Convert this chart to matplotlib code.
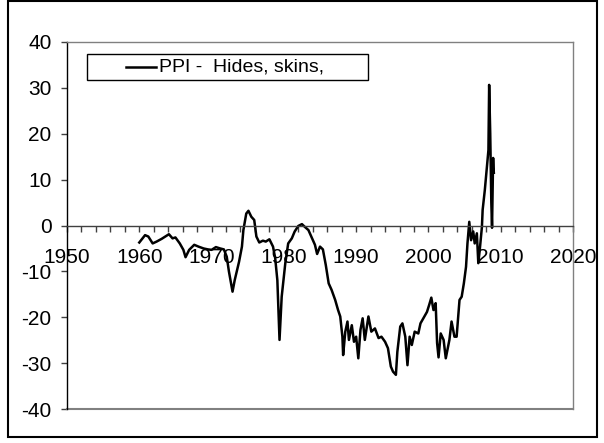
import matplotlib
matplotlib.use("Agg")
import matplotlib.pyplot as plt
from matplotlib.patches import Rectangle
from matplotlib.lines import Line2D
from matplotlib.ticker import MultipleLocator

plt.rcParams['font.family'] = ['Liberation Sans', 'DejaVu Sans']
plt.rcParams['axes.unicode_minus'] = False

# values (year, % change)
years = [1960.0, 1960.8, 1961.25, 1961.85, 1962.4, 1963.1, 1964.1, 1964.6, 1965.0, 1965.6,
         1966.1, 1966.4, 1966.9, 1967.6, 1968.2, 1968.9, 1969.5, 1970.0, 1970.6, 1971.2,
         1971.7, 1972.1, 1972.4, 1972.9, 1973.2, 1973.6, 1973.8, 1974.2, 1974.4, 1974.8,
         1975.1, 1975.5, 1975.9, 1976.2, 1976.6, 1977.1, 1977.5, 1978.0, 1978.5, 1978.8,
         1979.1, 1979.4, 1979.7, 1980.2, 1980.6, 1981.1, 1981.5, 1982.0, 1982.5, 1982.9,
         1983.4, 1983.8, 1984.3, 1984.6, 1985.0, 1985.4, 1985.8, 1986.2, 1986.6, 1987.1,
         1987.5, 1987.8, 1988.1, 1988.2, 1988.5, 1988.8, 1989.0, 1989.4, 1989.7, 1990.0,
         1990.3, 1990.6, 1990.9, 1991.2, 1991.7, 1992.1, 1992.6, 1993.1, 1993.5, 1994.0,
         1994.4, 1994.8, 1995.1, 1995.5, 1995.7, 1996.1, 1996.4, 1996.8, 1997.1, 1997.4,
         1997.7, 1998.1, 1998.6, 1998.9, 1999.3, 1999.8, 2000.1, 2000.4, 2000.7, 2001.0,
         2001.2, 2001.4, 2001.7, 2002.1, 2002.4, 2002.9, 2003.2, 2003.6, 2003.9, 2004.3,
         2004.6, 2004.9, 2005.2, 2005.4, 2005.65, 2005.9, 2006.2, 2006.4, 2006.7, 2006.9,
         2007.1, 2007.4, 2007.5, 2007.8, 2008.05, 2008.3, 2008.4, 2008.55, 2008.7, 2008.8,
         2008.95, 2009.0, 2009.05]
ppi_hides = [-3.7, -2.1, -2.4, -3.9, -3.5, -2.9, -1.9, -2.8, -2.6, -3.9,
             -5.3, -6.9, -5.3, -4.2, -4.6, -5.0, -5.2, -5.3, -4.7, -5.0,
             -5.2, -6.8, -10.0, -14.4, -11.9, -9.3, -7.9, -4.6, -1.0, 2.6,
             3.2, 1.9, 1.2, -2.4, -3.7, -3.3, -3.5, -3.0, -4.6, -7.1,
             -11.9, -24.9, -15.5, -8.2, -3.9, -2.8, -1.3, -0.1, 0.3, -0.3,
             -1.0, -2.4, -4.2, -6.2, -4.6, -5.2, -8.6, -12.6, -14.0, -16.2,
             -18.4, -19.8, -24.2, -28.2, -23.1, -20.9, -24.9, -21.7, -25.3, -24.2,
             -28.9, -22.7, -20.2, -24.9, -19.8, -23.1, -22.4, -24.5, -24.2, -25.3,
             -26.7, -30.7, -31.8, -32.5, -27.5, -22.0, -21.3, -24.2, -30.4, -24.2,
             -26.0, -23.1, -23.5, -21.3, -20.2, -18.8, -17.3, -15.7, -18.4, -16.9,
             -25.6, -28.7, -23.5, -24.9, -28.9, -24.9, -20.9, -24.2, -24.2, -16.2,
             -15.5, -12.6, -9.0, -3.9, 0.8, -3.2, -1.3, -3.9, -1.7, -8.2,
             -5.3, -0.3, 3.4, 7.7, 12.1, 16.4, 30.6, 20.0, 5.0, -0.5,
             14.7, 12.5, 11.5]
legend_label = "PPI -  Hides, skins,"

W, H = 604, 443
fig = plt.figure(figsize=(W / 100, H / 100), dpi=100)
ax = fig.add_axes([67 / W, (H - 409.3) / H, (573 - 67) / W, (409.3 - 41.7) / H])

ax.plot(years, ppi_hides, color='black', lw=1.8)

ax.set_xlim(1950, 2020)
ax.set_ylim(-40, 40)
ax.xaxis.set_major_locator(MultipleLocator(10))
ax.xaxis.set_minor_locator(MultipleLocator(2))
ax.yaxis.set_major_locator(MultipleLocator(10))

# frame like excel
for s in ['top', 'right']:
    ax.spines[s].set_color('#808080')
    ax.spines[s].set_linewidth(1)
ax.spines['left'].set_color('black')
ax.spines['left'].set_linewidth(1)
ax.spines['bottom'].set_position(('data', 0))
ax.spines['bottom'].set_color('#404040')
ax.spines['bottom'].set_linewidth(1)
ax.axhline(-40, color='#808080', lw=1.5, clip_on=False)

ax.tick_params(axis='x', which='both', direction='out', length=4, width=1,
               color='#404040', labelsize=15, pad=12)
ax.tick_params(axis='y', direction='out', length=4, width=1, color='#404040',
               labelsize=15, pad=7)

# legend box (truncated label, centered content)
fig.patches.append(Rectangle((87 / W, (H - 79.5) / H), 281 / W, 25.5 / H,
                             transform=fig.transFigure, fill=False,
                             edgecolor='black', lw=1))
ly = (H - 66.5) / H
fig.lines.append(Line2D([126 / W, 156 / W], [ly, ly], transform=fig.transFigure,
                        color='black', lw=1.8))
fig.text(159 / W, ly, legend_label, fontsize=14, va='center', ha='left')

# outer border
fig.patches.append(Rectangle((8 / W, (H - 437) / H), 589 / W, 436 / H,
                             transform=fig.transFigure, fill=False,
                             edgecolor='black', lw=1.5))

fig.savefig('out.png', dpi=100)
